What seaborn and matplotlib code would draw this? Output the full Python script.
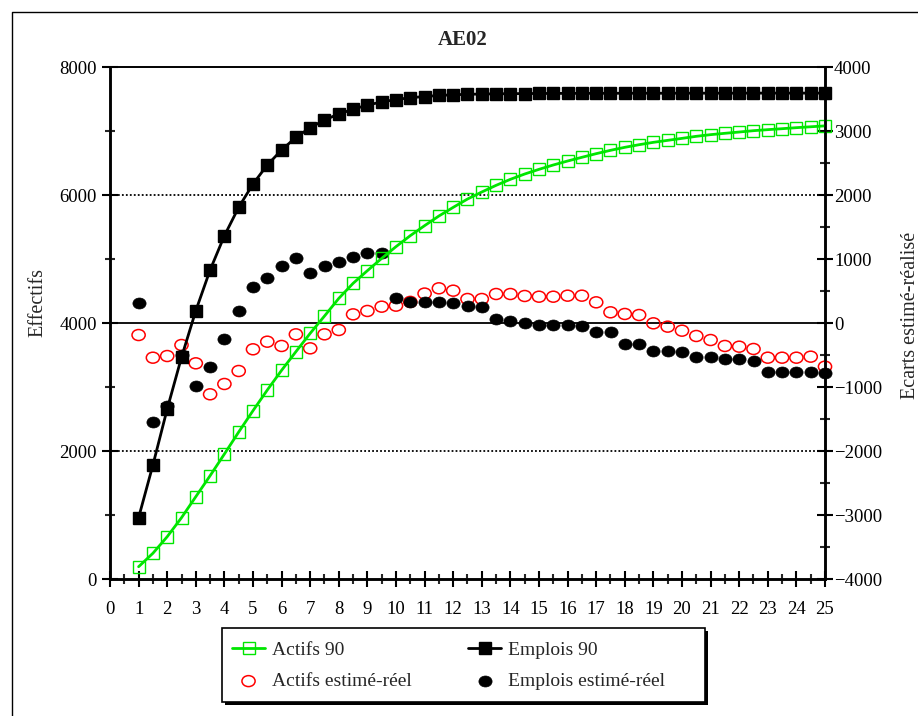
import numpy as np
import pandas as pd
import matplotlib
matplotlib.use("Agg")
import matplotlib.pyplot as plt
import seaborn as sns
from matplotlib.path import Path
from matplotlib.transforms import Affine2D
from matplotlib.ticker import MultipleLocator
from matplotlib.lines import Line2D
from matplotlib.patches import Rectangle

# Horizon (pas d'une demi-année)
annees = np.arange(1, 25.5, 0.5)

# Effectifs (axe de gauche)
actifs_90 = [192, 402, 661, 958, 1286, 1614, 1953, 2297, 2630, 2953, 3261, 3552, 3839, 4109,
             4385, 4620, 4818, 5010, 5193, 5365, 5521, 5672, 5807, 5937, 6047, 6151, 6245,
             6328, 6401, 6469, 6531, 6589, 6646, 6698, 6745, 6786, 6823, 6854, 6885, 6917,
             6943, 6964, 6984, 7005, 7021, 7036, 7052, 7066, 7080]
emplois_90 = [958, 1781, 2656, 3464, 4192, 4828, 5364, 5808, 6172, 6469, 6703, 6901, 7052,
              7172, 7266, 7339, 7406, 7453, 7492, 7520, 7539, 7555, 7566, 7573, 7578, 7581,
              7583, 7585, 7586, 7587, 7588, 7588, 7589, 7589, 7590, 7590, 7590, 7590, 7591,
              7591, 7591, 7591, 7591, 7592, 7592, 7592, 7592, 7592, 7592]

# Ecarts estimé-réel (axe de droite)
actifs_ecart = [-188, -542, -516, -344, -630, -1114, -953, -750, -411, -292, -359, -177, -396,
                -177, -109, 135, 188, 255, 271, 330, 460, 542, 505, 375, 375, 453, 453, 422,
                411, 411, 427, 427, 323, 167, 141, 125, -5, -57, -120, -203, -266, -359, -370,
                -406, -542, -542, -542, -526, -682]
emplois_ecart = [307, -1552, -1297, -500, -979, -682, -250, 193, 557, 698, 896, 1010, 776, 885,
                 960, 1036, 1099, 1089, 385, 333, 323, 333, 307, 271, 245, 62, 36, -5, -31, -31,
                 -31, -45, -146, -146, -333, -333, -432, -432, -448, -536, -536, -568, -568,
                 -589, -771, -771, -771, -771, -786]

df = pd.DataFrame({"annee": annees, "actifs_90": actifs_90, "emplois_90": emplois_90,
                   "actifs_ecart": actifs_ecart, "emplois_ecart": emplois_ecart})

sns.set_style("ticks")
plt.rcParams["font.family"] = ["Liberation Serif", "DejaVu Serif"]

W, H = 918, 716
fig = plt.figure(figsize=(W / 100, H / 100), dpi=100)
ax = fig.add_axes([110 / W, 1 - 579 / H, 715 / W, 512 / H])
ax2 = ax.twinx()

green = "#00e600"
ellipse = Path.unit_circle().transformed(Affine2D().scale(1.2, 1.0))

# reference lines
ax.axhline(2000, color="black", lw=1.3, ls=(0, (1, 1.2)), zorder=0)
ax.axhline(6000, color="black", lw=1.3, ls=(0, (1, 1.2)), zorder=0)
ax2.axhline(0, color="black", lw=1.3, zorder=0)

sns.scatterplot(data=df, x="annee", y="actifs_ecart", ax=ax2, marker=ellipse, s=90,
                facecolors="none", edgecolor="red", linewidth=1.1,
                label="Actifs estimé-réel", zorder=3, clip_on=False)
sns.scatterplot(data=df, x="annee", y="emplois_ecart", ax=ax2, marker=ellipse, s=90,
                color="black", edgecolor="black", linewidth=0.5,
                label="Emplois estimé-réel", zorder=3, clip_on=False)

sns.lineplot(data=df, x="annee", y="actifs_90", ax=ax, color=green, linewidth=2.0,
             marker="s", markersize=9.3, markerfacecolor="none", markeredgecolor=green,
             markeredgewidth=1.0, label="Actifs 90", clip_on=False)
sns.lineplot(data=df, x="annee", y="emplois_90", ax=ax, color="black", linewidth=2.0,
             marker="s", markersize=9.3, markerfacecolor="black", markeredgecolor="black",
             markeredgewidth=1.0, label="Emplois 90", clip_on=False)

ax.set_zorder(ax2.get_zorder() + 1)
ax.patch.set_visible(False)

# axes
ax.set_xlim(0, 25)
ax.set_ylim(0, 8000)
ax2.set_ylim(-4000, 4000)
ax.set_xticks(range(0, 26))
ax.xaxis.set_minor_locator(MultipleLocator(0.5))
ax.set_yticks(range(0, 8001, 2000))
ax.yaxis.set_minor_locator(MultipleLocator(1000))
ax2.set_yticks(range(-4000, 4001, 1000))
ax2.yaxis.set_minor_locator(MultipleLocator(500))

for a in (ax, ax2):
    a.tick_params(which="major", direction="inout", length=11, width=1.5, labelsize=13.5,
                  colors="black")
    a.tick_params(which="minor", direction="inout", length=7, width=1.5)
    for side in a.spines.values():
        side.set_color("black")
        side.set_linewidth(1.8)
    a.spines["top"].set_linewidth(1.2)
ax.tick_params(axis="x", which="major", pad=10)
ax.tick_params(axis="y", which="major", pad=4)
ax2.tick_params(axis="y", which="major", pad=1)

ax.set_xlabel("")
ax.set_ylabel("Effectifs", fontsize=14.5)
ax.yaxis.set_label_coords(-0.088, 0.54)
ax2.set_ylabel("Ecarts estimé-réalisé", fontsize=14.5)
ax2.yaxis.set_label_coords(1.106, 0.515)

fig.text(463 / W, 1 - 40 / H, "AE02", ha="center", va="center", fontsize=15, fontweight="bold")

# legend: box drawn by hand so it keeps the reference width
h1, l1 = ax.get_legend_handles_labels()
h2, l2 = ax2.get_legend_handles_labels()
for a in (ax, ax2):
    if a.get_legend() is not None:
        a.get_legend().remove()
handles = [h1[0], h2[0], h1[1], h2[1]]
labels = [l1[0], l2[0], l1[1], l2[1]]
fig.add_artist(Rectangle((225 / W, 1 - 705 / H), 483 / W, 74 / H, transform=fig.transFigure,
                         facecolor="black", edgecolor="black", lw=0, zorder=2))
fig.add_artist(Rectangle((222 / W, 1 - 702 / H), 483 / W, 74 / H, transform=fig.transFigure,
                         facecolor="white", edgecolor="black", lw=1.2, zorder=3))
leg = fig.legend(handles, labels, ncol=2, loc="upper left", bbox_to_anchor=(232 / W, 1 - 641 / H),
                 fontsize=14, frameon=False, handlelength=1.7, handletextpad=0.35,
                 columnspacing=2.9, borderpad=0, borderaxespad=0, labelspacing=0.72)
leg.set_zorder(5)

# outer border
fig.add_artist(Line2D([12 / W, 12 / W, 1], [0, 1 - 12 / H, 1 - 12 / H],
                      transform=fig.transFigure, color="black", lw=1))

plt.savefig("out.png", dpi=100)
plt.close()
